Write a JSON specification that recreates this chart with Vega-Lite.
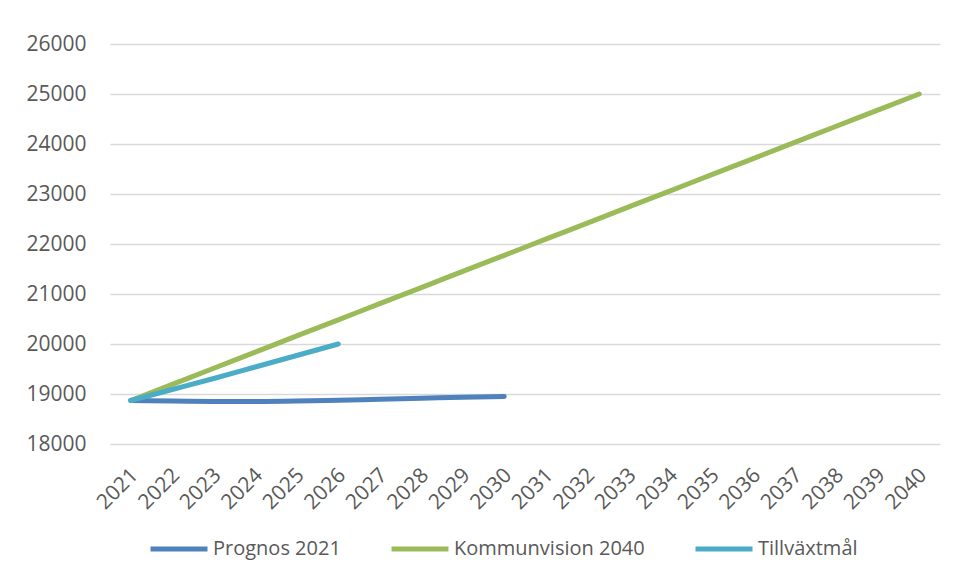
{
  "$schema": "https://vega.github.io/schema/vega-lite/v6.json",
  "width": 830,
  "height": 400,
  "autosize": {"type": "none"},
  "padding": {"left": 110, "top": 44, "right": 17, "bottom": 137},
  "background": "white",
  "config": {
    "view": {"stroke": null},
    "font": "Open Sans"
  },
  "data": {
    "values": [
      {"year": "2021", "serie": "Prognos 2021", "value": 18870},
      {"year": "2022", "serie": "Prognos 2021", "value": 18860},
      {"year": "2023", "serie": "Prognos 2021", "value": 18852},
      {"year": "2024", "serie": "Prognos 2021", "value": 18850},
      {"year": "2025", "serie": "Prognos 2021", "value": 18858},
      {"year": "2026", "serie": "Prognos 2021", "value": 18875},
      {"year": "2027", "serie": "Prognos 2021", "value": 18895},
      {"year": "2028", "serie": "Prognos 2021", "value": 18915},
      {"year": "2029", "serie": "Prognos 2021", "value": 18935},
      {"year": "2030", "serie": "Prognos 2021", "value": 18950},
      {"year": "2021", "serie": "Kommunvision 2040", "value": 18870},
      {"year": "2022", "serie": "Kommunvision 2040", "value": 19193},
      {"year": "2023", "serie": "Kommunvision 2040", "value": 19515},
      {"year": "2024", "serie": "Kommunvision 2040", "value": 19838},
      {"year": "2025", "serie": "Kommunvision 2040", "value": 20161},
      {"year": "2026", "serie": "Kommunvision 2040", "value": 20483},
      {"year": "2027", "serie": "Kommunvision 2040", "value": 20806},
      {"year": "2028", "serie": "Kommunvision 2040", "value": 21128},
      {"year": "2029", "serie": "Kommunvision 2040", "value": 21451},
      {"year": "2030", "serie": "Kommunvision 2040", "value": 21774},
      {"year": "2031", "serie": "Kommunvision 2040", "value": 22096},
      {"year": "2032", "serie": "Kommunvision 2040", "value": 22419},
      {"year": "2033", "serie": "Kommunvision 2040", "value": 22742},
      {"year": "2034", "serie": "Kommunvision 2040", "value": 23064},
      {"year": "2035", "serie": "Kommunvision 2040", "value": 23387},
      {"year": "2036", "serie": "Kommunvision 2040", "value": 23709},
      {"year": "2037", "serie": "Kommunvision 2040", "value": 24032},
      {"year": "2038", "serie": "Kommunvision 2040", "value": 24355},
      {"year": "2039", "serie": "Kommunvision 2040", "value": 24677},
      {"year": "2040", "serie": "Kommunvision 2040", "value": 25000},
      {"year": "2021", "serie": "Tillväxtmål", "value": 18870},
      {"year": "2022", "serie": "Tillväxtmål", "value": 19090},
      {"year": "2023", "serie": "Tillväxtmål", "value": 19310},
      {"year": "2024", "serie": "Tillväxtmål", "value": 19540},
      {"year": "2025", "serie": "Tillväxtmål", "value": 19770},
      {"year": "2026", "serie": "Tillväxtmål", "value": 20000}
    ]
  },
  "mark": {
    "type": "line",
    "strokeWidth": 5,
    "strokeCap": "round",
    "strokeJoin": "round",
    "interpolate": "monotone"
  },
  "encoding": {
    "x": {
      "field": "year",
      "type": "ordinal",
      "scale": {
        "domain": ["2021","2022","2023","2024","2025","2026","2027","2028","2029","2030","2031","2032","2033","2034","2035","2036","2037","2038","2039","2040"]
      },
      "axis": {
        "title": null,
        "domain": false,
        "ticks": false,
        "grid": false,
        "labelAngle": -45,
        "labelFont": "Open Sans",
        "labelFontSize": 21,
        "labelColor": "#595959",
        "labelPadding": 20,
        "labelOffset": -4
      }
    },
    "y": {
      "field": "value",
      "type": "quantitative",
      "scale": {"domain": [18000, 26000], "nice": false, "zero": false},
      "axis": {
        "title": null,
        "values": [18000, 19000, 20000, 21000, 22000, 23000, 24000, 25000, 26000],
        "format": "d",
        "domain": false,
        "ticks": false,
        "grid": true,
        "gridColor": "#d9d9d9",
        "gridWidth": 1.5,
        "labelFont": "Open Sans",
        "labelFontSize": 21,
        "labelColor": "#595959",
        "labelPadding": 24
      }
    },
    "color": {
      "field": "serie",
      "type": "nominal",
      "sort": ["Prognos 2021", "Kommunvision 2040", "Tillväxtmål"],
      "scale": {
        "domain": ["Prognos 2021", "Kommunvision 2040", "Tillväxtmål"],
        "range": ["#4f81bd", "#9bbb59", "#4bacc6"]
      },
      "legend": {
        "title": null,
        "orient": "none",
        "direction": "horizontal",
        "legendX": 38,
        "legendY": 474,
        "symbolType": "stroke",
        "symbolSize": 3249,
        "symbolStrokeWidth": 5,
        "labelFont": "Open Sans",
        "labelFontSize": 20,
        "labelColor": "#595959",
        "labelOffset": 3,
        "columnPadding": 40,
        "labelLimit": 400
      }
    }
  }
}
